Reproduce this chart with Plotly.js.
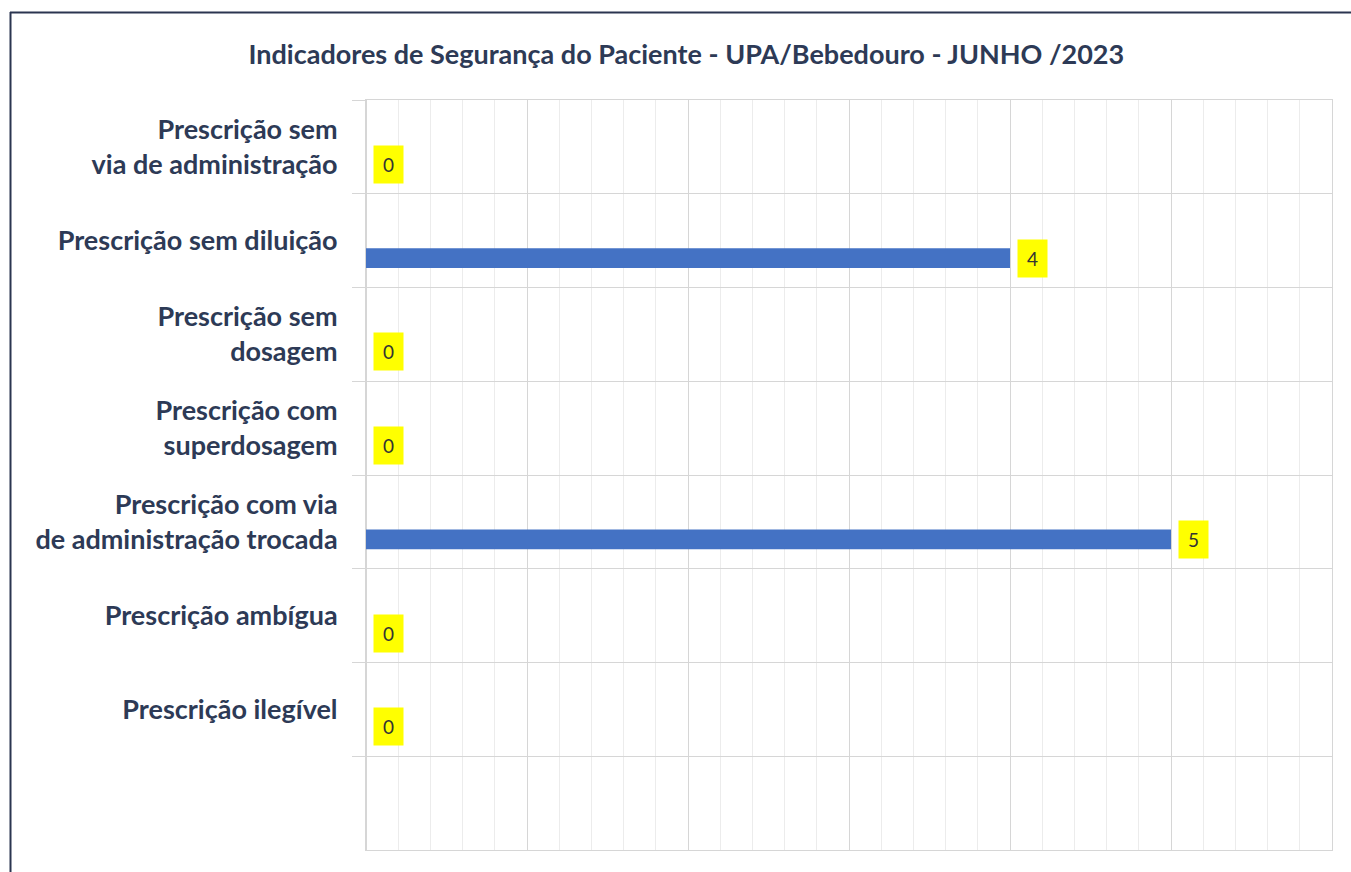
<!DOCTYPE html>
<html>
<head>
<meta charset="utf-8">
<script src="https://cdn.plot.ly/plotly-3.0.1.min.js"></script>
<style>
  html, body { margin: 0; padding: 0; background: #ffffff; }
  #myDiv { width: 1351px; height: 872px; }
</style>
</head>
<body>
<div id="myDiv"></div>
<script>
// categories top to bottom, the last slot is left empty in the original
var categories = [
  'Prescrição sem<br>via de administração',
  'Prescrição sem diluição',
  'Prescrição sem<br>dosagem',
  'Prescrição com<br>superdosagem',
  'Prescrição com via<br>de administração trocada',
  'Prescrição ambígua',
  'Prescrição ilegível',
  ' '
];
var values = [0, 4, 0, 0, 5, 0, 0, null];

var navy = '#2d3a56';
var W = 1351, H = 872;
var margin = {l: 366, r: 19, t: 100, b: 22};
var plotW = W - margin.l - margin.r;
var plotH = H - margin.t - margin.b;

// pixel -> paper helpers for the frame lines
function px(x) { return (x - margin.l) / plotW; }
function py(y) { return (H - margin.b - y) / plotH; }

var data = [{
  type: 'bar',
  orientation: 'h',
  x: values,
  y: categories,
  marker: {color: '#4472c4'},
  width: 0.213,
  offset: 0.08,
  hoverinfo: 'x+y'
}];

var labels = [];
for (var i = 0; i < values.length; i++) {
  if (values[i] === null) continue;
  labels.push({
    x: values[i],
    y: categories[i],
    xref: 'x', yref: 'y',
    text: String(values[i]),
    showarrow: false,
    xanchor: 'left',
    yanchor: 'middle',
    xshift: 7,
    yshift: -17.5,
    bgcolor: '#ffff00',
    width: 21,
    height: 29,
    borderpad: 4,
    font: {family: 'Lato, sans-serif', size: 19, color: '#333333'}
  });
}

var grid = '#d6d6d6';

var layout = {
  width: W,
  height: H,
  margin: margin,
  paper_bgcolor: '#ffffff',
  plot_bgcolor: '#ffffff',
  showlegend: false,
  title: {
    text: 'Indicadores de Segurança do Paciente - UPA/Bebedouro - JUNHO /2023',
    font: {family: 'Lato, sans-serif', size: 27, color: navy, weight: 'bold'},
    x: 0.508, xref: 'container', xanchor: 'center',
    y: 1 - 55 / H, yref: 'container', yanchor: 'middle'
  },
  xaxis: {
    range: [0, 6],
    dtick: 1,
    showticklabels: false,
    showgrid: true,
    gridcolor: grid,
    gridwidth: 1,
    zeroline: true,
    zerolinecolor: grid,
    zerolinewidth: 1,
    showline: true,
    mirror: true,
    linecolor: grid,
    linewidth: 1,
    minor: {dtick: 0.2, showgrid: true, gridcolor: '#ececec', gridwidth: 1},
    fixedrange: true
  },
  yaxis: {
    type: 'category',
    autorange: 'reversed',
    tickson: 'boundaries',
    ticks: 'outside',
    ticklen: 13,
    tickcolor: grid,
    showgrid: true,
    gridcolor: grid,
    showline: true,
    mirror: true,
    linecolor: grid,
    linewidth: 1,
    ticklabelstandoff: 22,
    tickfont: {family: 'Lato, sans-serif', size: 27, color: navy, weight: 'bold'},
    fixedrange: true
  },
  annotations: labels,
  shapes: [
    {type: 'line', xref: 'paper', yref: 'paper', x0: px(10), x1: px(W + 5), y0: py(12.5), y1: py(12.5),
     line: {color: '#2b3550', width: 2}},
    {type: 'line', xref: 'paper', yref: 'paper', x0: px(10.5), x1: px(10.5), y0: py(12), y1: py(H + 5),
     line: {color: '#2b3550', width: 2}}
  ]
};

Plotly.newPlot('myDiv', data, layout, {displayModeBar: false});
</script>
</body>
</html>
